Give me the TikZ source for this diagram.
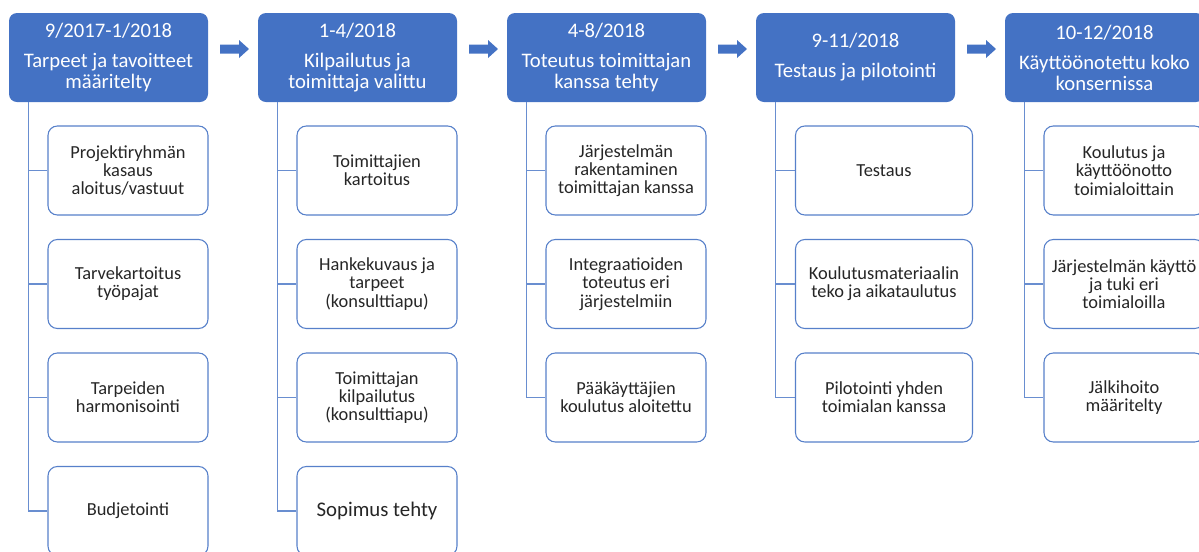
\documentclass[tikz,border=0pt]{standalone}
\usepackage{fontspec}
\setmainfont{Carlito}
\definecolor{phaseblue}{HTML}{4472C4}

\begin{document}
\begin{tikzpicture}[x=0.75pt, y=-0.75pt,
  phase/.style={fill=phaseblue, rounded corners=6pt, minimum width=149.25pt, minimum height=66.75pt,
    inner sep=0pt, text=white, align=center, font=\fontsize{15.5}{15.75}\selectfont},
  task/.style={draw=phaseblue!90, line width=0.8pt, fill=white, rounded corners=7pt, minimum width=120pt,
    minimum height=66.75pt, inner sep=0pt, text=black!85, align=center, font=\fontsize{13.8}{13.7}\selectfont},
  widetask/.style={task, minimum width=132.75pt},
  link/.style={draw=phaseblue!80, line width=0.8pt}]
\useasboundingbox (0,0) rectangle (1199,551);

% vaiheet
\node[phase] (h1) at (108.5,57.5) {9/2017-1/2018\\[6.75pt]Tarpeet ja tavoitteet\\määritelty};
\node[phase] (h2) at (357.5,57.5) {1-4/2018\\[6.75pt]Kilpailutus ja\\toimittaja valittu};
\node[phase] (h3) at (606.5,57.5) {4-8/2018\\[6.75pt]Toteutus toimittajan\\kanssa tehty};
\node[phase] (h4) at (855.5,57.5) {9-11/2018\\[6.75pt]Testaus ja pilotointi};
\node[phase] (h5) at (1104.5,57.5) {10-12/2018\\[6.75pt]Käyttöönotettu koko\\konsernissa};

% tehtävät
\node[task] (c1-1) at (128,170.5) {Projektiryhmän\\kasaus\\aloitus/vastuut};
\node[task] (c1-2) at (128,284) {Tarvekartoitus\\työpajat};
\node[task] (c1-3) at (128,397.5) {Tarpeiden\\harmonisointi};
\node[task] (c1-4) at (128,511) {Budjetointi};

\node[task] (c2-1) at (377,170.5) {Toimittajien\\kartoitus};
\node[task] (c2-2) at (377,284) {Hankekuvaus ja\\tarpeet\\(konsulttiapu)};
\node[task] (c2-3) at (377,397.5) {Toimittajan\\kilpailutus\\(konsulttiapu)};
\node[task, font=\fontsize{15.6}{15.75}\selectfont] (c2-4) at (377,511) {Sopimus tehty};

\node[task] (c3-1) at (626,170.5) {Järjestelmän\\rakentaminen\\toimittajan kanssa};
\node[task] (c3-2) at (626,284) {Integraatioiden\\toteutus eri\\järjestelmiin};
\node[task] (c3-3) at (626,397.5) {Pääkäyttäjien\\koulutus aloitettu};

\node[widetask] (c4-1) at (884,170.5) {Testaus};
\node[widetask] (c4-2) at (884,284) {Koulutusmateriaalin\\teko ja aikataulutus};
\node[widetask] (c4-3) at (884,397.5) {Pilotointi yhden\\toimialan kanssa};

\node[task] (c5-1) at (1124,170.5) {Koulutus ja\\käyttöönotto\\toimialoittain};
\node[task] (c5-2) at (1124,284) {Järjestelmän käyttö\\ja tuki eri\\toimialoilla};
\node[task] (c5-3) at (1124,397.5) {Jälkihoito\\määritelty};

% haarat
\foreach \i/\n in {1/4,2/4,3/3,4/3,5/3}
  \foreach \j in {1,...,\n}
    \draw[link] ([xshift=15pt]h\i.south west) |- (c\i-\j.west);

% nuolet
\foreach \i [evaluate=\i as \ax using 220+249*(\i-1)] in {1,...,4}
  \fill[phaseblue] (\ax,44.5) -- (\ax+19,44.5) -- (\ax+19,40) -- (\ax+29,49) -- (\ax+19,58)
    -- (\ax+19,53.5) -- (\ax,53.5) -- cycle;
\end{tikzpicture}
\end{document}
